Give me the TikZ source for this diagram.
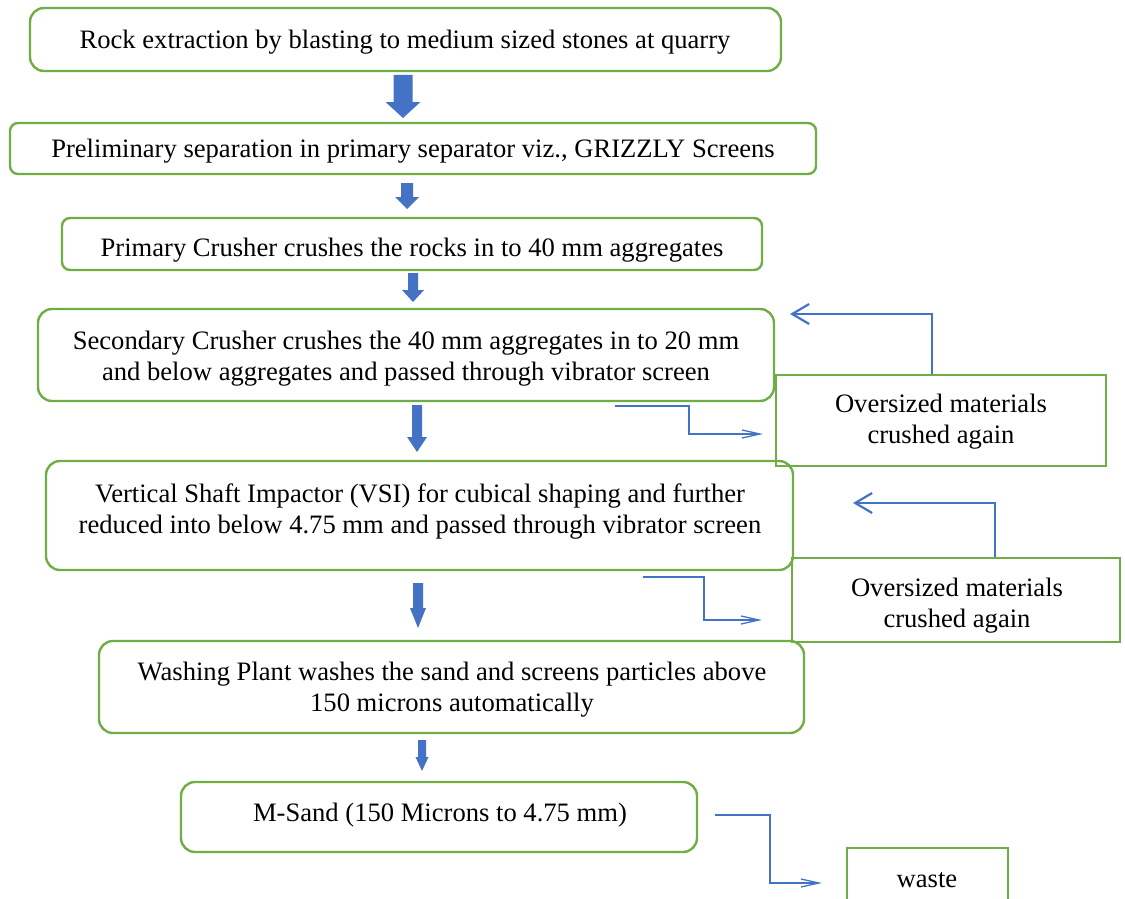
\documentclass[tikz,border=0pt]{standalone}
\usepackage{fontspec}
\setmainfont{Liberation Serif}
\usetikzlibrary{arrows.meta}
\definecolor{boxgreen}{HTML}{70AD47}
\definecolor{arrblue}{HTML}{4472C4}
% x, ytop, yhead, ytip, half shaft, half head
\newcommand\blkarrow[6]{%
  \fill[arrblue] ({#1-#5},#2) -- ({#1+#5},#2) -- ({#1+#5},#3) -- ({#1+#6},#3) -- (#1,#4) -- ({#1-#6},#3) -- ({#1-#5},#3) -- cycle;}
\begin{document}
\begin{tikzpicture}[x=1pt,y=-1pt,
  rbox/.style={draw=boxgreen, line width=2.4pt, rounded corners=14pt, inner sep=0pt},
  sbox/.style={draw=boxgreen, line width=2.4pt, inner sep=0pt},
  txt/.style={font=\fontsize{26.6}{31}\selectfont, align=center, inner sep=0pt},
  link/.style={draw=arrblue, line width=1.3pt, -{Straight Barb[length=18pt,width=8pt]}},
  back/.style={draw=arrblue, line width=2.2pt, -{Straight Barb[length=17pt,width=20pt]}}]
\useasboundingbox (0,0) rectangle (1125,899);
% boxes
\node[rbox, minimum width=751pt, minimum height=63pt] (b1) at (405.5,39.5) {};
\node[rbox, rounded corners=8pt, minimum width=806pt, minimum height=51pt] (b2) at (413,148.5) {};
\node[rbox, rounded corners=8pt, minimum width=700pt, minimum height=52pt] (b3) at (412,244) {};
\node[rbox, minimum width=736pt, minimum height=92pt] (b4) at (406,355) {};
\node[rbox, minimum width=747pt, minimum height=109pt] (b5) at (419.5,515.5) {};
\node[rbox, minimum width=705pt, minimum height=92pt] (b6) at (451.5,687) {};
\node[rbox, minimum width=516pt, minimum height=70pt] (b7) at (439,817) {};
\node[sbox, minimum width=330pt, minimum height=91pt] (o1) at (941,420.5) {};
\node[sbox, minimum width=328pt, minimum height=84pt] (o2) at (956,600) {};
\node[sbox, minimum width=161pt, minimum height=57pt] (w) at (927.5,876.5) {};
% texts
\node[txt] (t1) at (405,42) {Rock extraction by blasting to medium sized stones at quarry};
\node[txt] (t2) at (413,151) {Preliminary separation in primary separator viz., GRIZZLY Screens};
\node[txt] (t3) at (412,250) {Primary Crusher crushes the rocks in to 40 mm aggregates};
\node[txt] (t4) at (406,358.5) {Secondary Crusher crushes the 40 mm aggregates in to 20 mm\\and below aggregates and passed through vibrator screen};
\node[txt] (t5) at (420,511.5) {Vertical Shaft Impactor (VSI) for cubical shaping and further\\reduced into below 4.75 mm and passed through vibrator screen};
\node[txt] (t6) at (452,689.5) {Washing Plant washes the sand and screens particles above\\150 microns automatically};
\node[txt] (t7) at (440,815) {M-Sand (150 Microns to 4.75 mm)};
\node[txt] (to1) at (941,421.5) {Oversized materials\\crushed again};
\node[txt] (to2) at (957,605.5) {Oversized materials\\crushed again};
\node[txt] (tw) at (927,880) {waste};
% block arrows
\blkarrow{403}{75}{102}{118}{9.5}{17.5}
\blkarrow{407}{183}{197}{209}{6}{12}
\blkarrow{413}{273}{290}{302}{5}{11}
\blkarrow{417}{405}{437}{452}{5}{10}
\blkarrow{418}{583}{608}{628}{5}{8}
\blkarrow{422}{740}{757}{771}{4}{6.5}
% elbow connectors
\coordinate (s1) at (615,406);
\coordinate (e1) at (763,434);
\draw[link] (s1) -- (689,406) -- (689,434) -- (e1);
\coordinate (s2) at (643,577);
\coordinate (e2) at (762,620);
\draw[link] (s2) -- (704,577) -- (704,620) -- (e2);
\coordinate (s3) at (715,815);
\coordinate (e3) at (822,883);
\draw[link] (s3) -- (770,815) -- (770,883) -- (e3);
% return connectors
\coordinate (r1) at (790,314);
\draw[back] ([xshift=-9pt]o1.north) -- (932,314) -- (r1);
\coordinate (r2) at (853,503);
\draw[back] ([xshift=39pt]o2.north) -- (995,503) -- (r2);
\end{tikzpicture}
\end{document}
